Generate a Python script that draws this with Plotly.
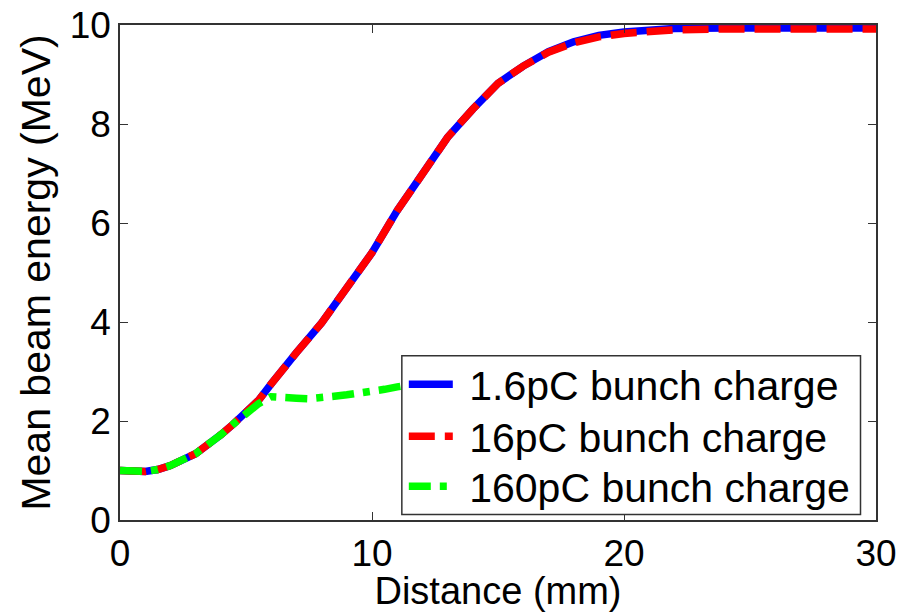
import plotly.graph_objects as go

# Distance (mm) and mean beam energy (MeV)
x_main = [0, 1, 1.5, 2, 3, 3.5, 4, 4.5, 5, 5.5, 6, 6.5, 7, 8, 9, 10, 11, 12,
          13, 14, 15, 16, 17, 18, 19, 20, 21, 22, 24, 26, 28, 30]
y_1p6 = [1.0, 0.98, 1.02, 1.1, 1.34, 1.52, 1.72, 1.94, 2.16, 2.42, 2.75, 3.08,
         3.38, 3.98, 4.68, 5.4, 6.25, 7.0, 7.73, 8.3, 8.82, 9.17, 9.46, 9.66,
         9.79, 9.86, 9.9, 9.93, 9.94, 9.94, 9.94, 9.94]
y_16 = [1.0, 0.98, 1.02, 1.1, 1.34, 1.52, 1.72, 1.94, 2.16, 2.42, 2.75, 3.08,
        3.38, 3.98, 4.68, 5.4, 6.25, 7.0, 7.73, 8.3, 8.82, 9.17, 9.45, 9.64,
        9.76, 9.83, 9.87, 9.9, 9.92, 9.92, 9.92, 9.92]
x_160 = [0, 1, 1.5, 2, 3, 3.5, 4, 4.5, 5, 5.5, 6, 6.5, 7, 7.5, 8, 8.5, 9,
         9.5, 10, 10.5, 11, 11.5, 12]
y_160 = [1.0, 0.98, 1.02, 1.1, 1.34, 1.52, 1.72, 1.94, 2.14, 2.35, 2.49, 2.49,
         2.46, 2.45, 2.46, 2.5, 2.53, 2.56, 2.6, 2.64, 2.69, 2.73, 2.77]

names = ["1.6pC bunch charge", "16pC bunch charge", "160pC bunch charge"]
x_ticks = [0, 10, 20, 30]
y_ticks = [0, 2, 4, 6, 8, 10]

FONT = "Arial, Liberation Sans, sans-serif"
NB = "\u00a0"

fig = go.Figure()
fig.add_trace(go.Scatter(x=x_main, y=y_1p6, mode="lines", name=NB + names[0],
                         legend="legend",
                         line=dict(color="#0000ff", width=7.5)))
fig.add_trace(go.Scatter(x=x_main, y=y_16, mode="lines", name=NB + names[1],
                         legend="legend2",
                         line=dict(color="#ff0000", width=7.5, dash="26px,10px")))
fig.add_trace(go.Scatter(x=x_160, y=y_160, mode="lines", name=NB + names[2],
                         legend="legend3",
                         line=dict(color="#00ff00", width=7.5, dash="22px,9px,7px,9px")))

axis_common = dict(showline=True, linecolor="#333333", linewidth=1.5, mirror="allticks",
                   ticks="inside", ticklen=8, tickcolor="#333333", showgrid=False,
                   zeroline=False, automargin=False,
                   tickfont=dict(family=FONT, size=37, color="black"))

fig.update_xaxes(range=[0, 30], tickvals=x_ticks,
                 title=dict(text="Distance (mm)", font=dict(family=FONT, size=38, color="black"),
                            standoff=4),
                 **axis_common)
fig.update_yaxes(range=[0, 10], tickvals=y_ticks,
                 title=dict(text="Mean beam energy (MeV)", font=dict(family=FONT, size=41, color="black"),
                            standoff=6),
                 **axis_common)

leg_common = dict(x=0.3754, xanchor="left", yanchor="middle",
                  bgcolor="rgba(0,0,0,0)", borderwidth=0,
                  font=dict(family=FONT, size=41, color="black"), itemwidth=44)

# legend frame
fig.add_shape(type="rect", xref="paper", yref="paper",
              x0=0.3728, x1=0.9795, y0=0.0111, y1=0.332,
              fillcolor="white", line=dict(color="#333333", width=1.5), layer="above")

fig.update_layout(
    width=913, height=612,
    margin=dict(l=120, r=37, t=25, b=92),
    plot_bgcolor="white", paper_bgcolor="white",
    showlegend=True,
    legend=dict(y=0.2735, **leg_common),
    legend2=dict(y=0.1685, **leg_common),
    legend3=dict(y=0.0676, **leg_common),
)

fig.write_html("out.html")
